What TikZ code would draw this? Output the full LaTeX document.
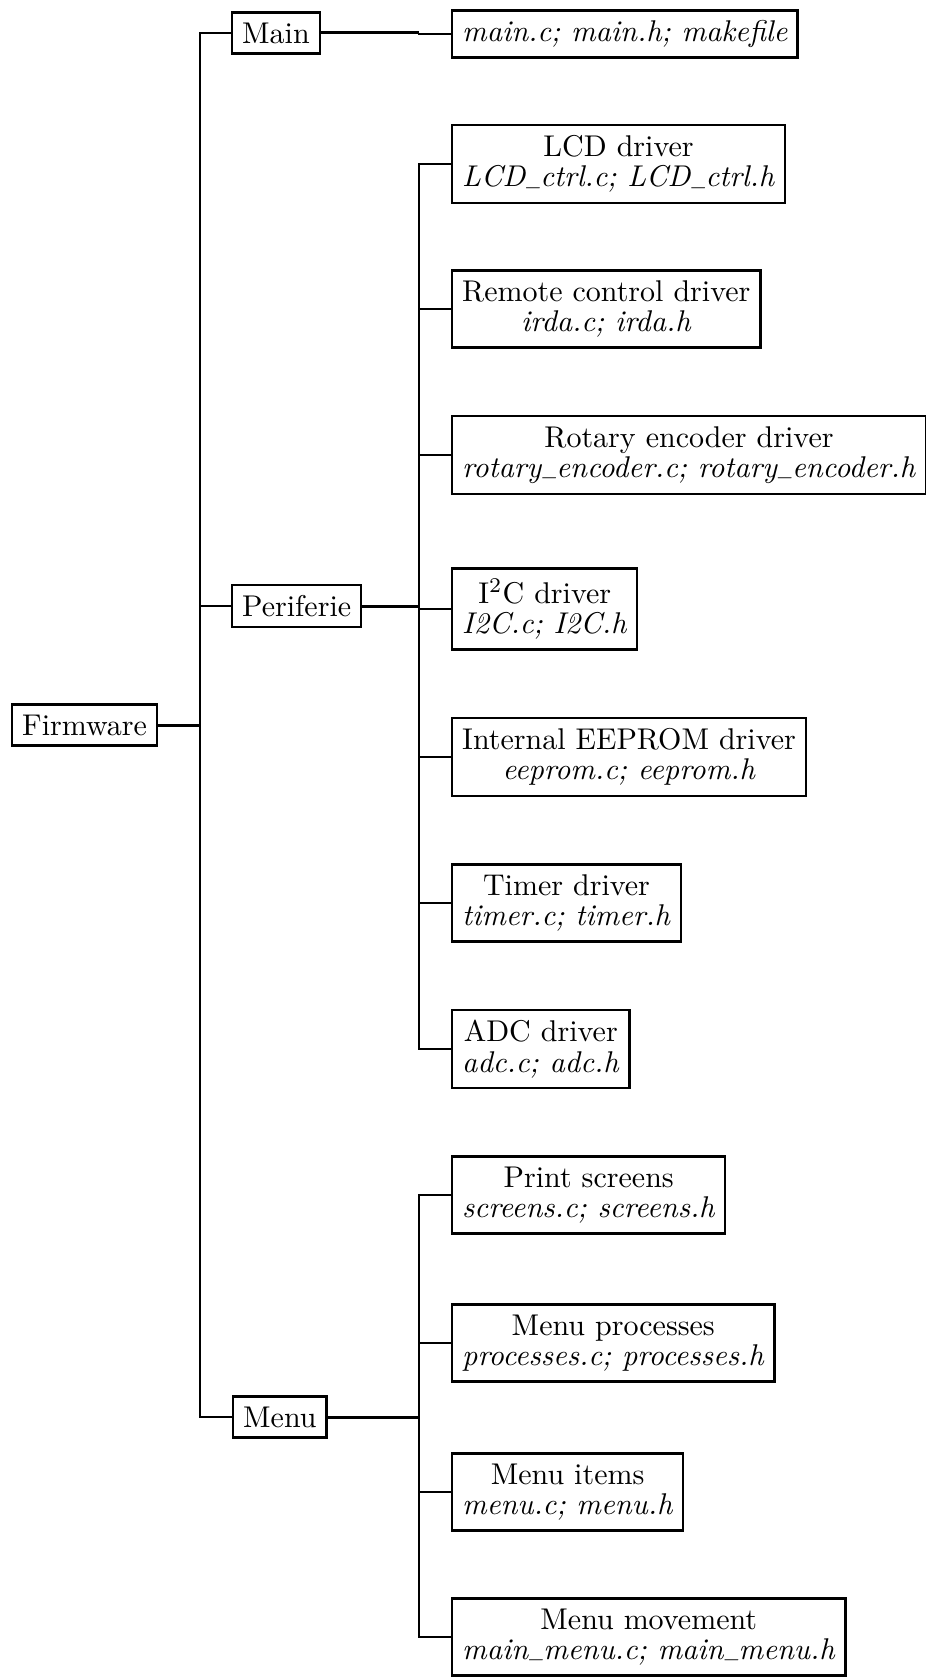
\documentclass[tikz,border=0pt]{standalone}
\usepackage{graphicx}
\newcommand{\usc}{\kern.06em\raisebox{0.9pt}{\scalebox{0.6}[1]{\_}}}
\begin{document}
\begin{tikzpicture}[x=0.3333pt,y=-0.3333pt,
  box/.style={draw,thick,align=center,anchor=west,font={\fontsize{10}{10.2}\selectfont}},
  edge/.style={semithick},
  parentline/.style={line width=1pt}]
\useasboundingbox (0,0) rectangle (925,1677);
\node[box] (fw) at (11,725) {Firmware};
\node[box] (main) at (231,33) {Main};
\node[box] (per) at (231,606) {Periferie};
\node[box] (menu) at (232,1417) {Menu};
\node[box] (mf) at (451,34) {\textit{main.c; main.h; makefile}};
\node[box] (lcd) at (451,164) {LCD driver\\\textit{LCD\usc ctrl.c; LCD\usc ctrl.h}};
\node[box] (rc) at (451,309) {Remote control driver\\\textit{irda.c; irda.h}};
\node[box] (rot) at (451,455) {Rotary encoder driver\\\textit{rotary\usc encoder.c; rotary\usc encoder.h}};
\node[box] (i2c) at (451,609) {I\textsuperscript{2}C driver\\\textit{I2C.c; I2C.h}};
\node[box] (eep) at (451,757) {Internal EEPROM driver\\\textit{eeprom.c; eeprom.h}};
\node[box] (tim) at (451,903) {Timer driver\\\textit{timer.c; timer.h}};
\node[box] (adc) at (451,1049) {ADC driver\\\textit{adc.c; adc.h}};
\node[box] (ps) at (451,1195) {Print screens\\\textit{screens.c; screens.h}};
\node[box] (mp) at (451,1343) {Menu processes\\\textit{processes.c; processes.h}};
\node[box] (mi) at (451,1492) {Menu items\\\textit{menu.c; menu.h}};
\node[box] (mm) at (451,1637) {Menu movement\\\textit{main\usc menu.c; main\usc menu.h}};
\coordinate (t) at (200,725);
\coordinate (px) at (419,606);
\coordinate (mx) at (419,1417);
\coordinate (mmx) at (419,33);
\draw[parentline] (fw.east) -- (t);
\draw[edge] (main.west) -| (t) |- (menu.west);
\draw[edge] (per.west) -- (per.west -| t);
\draw[parentline] (main.east) -- (mmx);
\draw[edge] (mmx) |- (mf.west);
\draw[parentline] (per.east) -- (px);
\foreach \n in {lcd,rc,rot,i2c,eep,tim,adc} \draw[edge] (\n.west) -| (px);
\draw[parentline] (menu.east) -- (mx);
\foreach \n in {ps,mp,mi,mm} \draw[edge] (\n.west) -| (mx);
\end{tikzpicture}
\end{document}
